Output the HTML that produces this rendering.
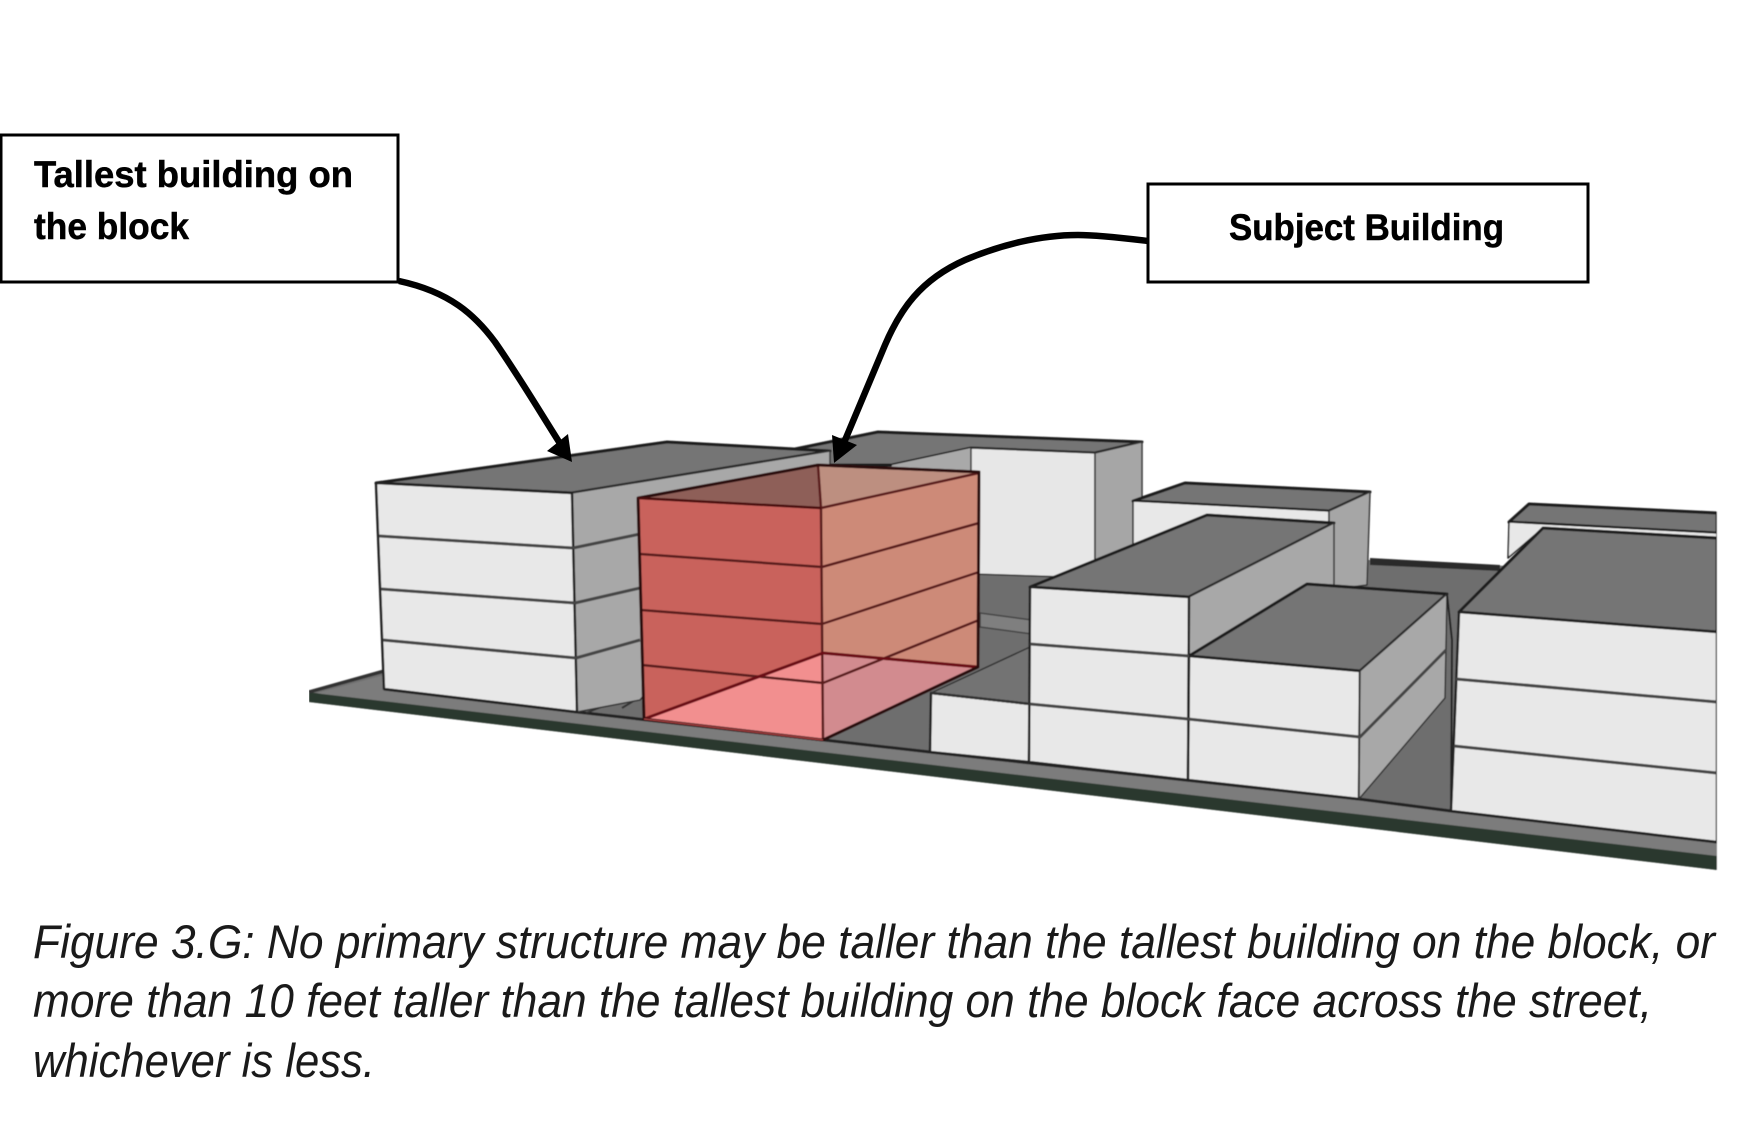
<!DOCTYPE html>
<html><head><meta charset="utf-8"><style>html,body{margin:0;padding:0;background:#fff}svg{display:block}</style></head>
<body>
<svg width="1751" height="1138" viewBox="0 0 1751 1138" xmlns="http://www.w3.org/2000/svg">
<defs><filter id="b" x="0" y="0" width="1" height="1"><feGaussianBlur stdDeviation="0.6"/></filter></defs>
<rect width="1751" height="1138" fill="#fff"/>
<g filter="url(#b)" stroke-linejoin="round">
<!-- ground -->
<polygon points="309,692 640,600 1000,545 1370,560 1717,575 1717,870 309,702" fill="#6e6e6e"/>
<polygon points="1370,558 1500,565 1500,571 1370,565" fill="#2a2a2a"/>
<polygon points="309,695 384,675 384,689 577,712 824,740 930,752 1359,799 1451,811 1717,842 1717,858 309,695" fill="#7c7c7c"/>
<polygon points="309,692 309,702 1717,870 1717,856 322,694" fill="#2b382d"/>
<polyline points="309,692 384,671" fill="none" stroke="#333" stroke-width="3.5"/>
<polyline points="384,689 577,712 824,740 930,752 1359,799 1451,811 1717,842" fill="none" stroke="#222" stroke-width="3"/>
<polygon points="980,613 1032,620 1032,634 980,627" fill="#7f7f7f" stroke="#444" stroke-width="1.5"/>
<polyline points="586,713 636,693" fill="none" stroke="#333" stroke-width="2"/>
<polyline points="622,708 640,697 M632,712 650,700" fill="none" stroke="#333" stroke-width="2"/>
<!-- back building -->
<polygon points="795,449 878,432 1142,442 1095,453 971,448 892,465 818,465" fill="#757575" stroke="#1c1c1c" stroke-width="3"/>
<polygon points="892,465 971,448 971,480 892,480" fill="#a9a9a9"/>
<polygon points="971,448 1095,453 1095,578 971,574" fill="#e7e7e7" stroke="#333" stroke-width="1.5"/>
<polygon points="1095,453 1142,442 1142,590 1095,578" fill="#a6a6a6" stroke="#333" stroke-width="1.5"/>
<!-- left building -->
<polygon points="376,483 667,442 830,451 572,493" fill="#757575" stroke="#1c1c1c" stroke-width="3"/>
<polygon points="572,493 830,451 830,470 640,700 577,712" fill="#a8a8a8" stroke="#333" stroke-width="1.5"/>
<polygon points="376,483 572,493 577,712 384,689" fill="#e8e8e8" stroke="#222" stroke-width="2.5"/>
<path d="M379,536 573,548 M381,589 575,603 M383,640 576,658 M573,548 640,534 M575,603 640,588 M576,658 640,640" stroke="#444" stroke-width="3" fill="none"/>
<!-- red building -->
<polygon points="638,498 818,465 821,508" fill="#8e5f58"/>
<polygon points="818,465 979,472 821,508" fill="#bd8f80"/>
<polygon points="638,498 821,508 823,653 644,719" fill="#c9625c"/>
<polygon points="821,508 979,472 978,667 823,653" fill="#cd8a78"/>
<polygon points="644,719 823,653 823,740" fill="#f28f8f"/>
<polygon points="823,653 978,667 823,740" fill="#d28b8f"/>
<path d="M640,554 822,567 M641,610 822,624 M642,665 823,683 M821,508 979,473 M822,567 979,523 M822,624 979,572 M823,683 979,620 M818,465 821,508 823,740" stroke="#5a1d1d" stroke-width="2.5" fill="none"/>
<path d="M644,719 823,653 978,667" stroke="#6b0f12" stroke-width="3" fill="none"/>
<polygon points="638,498 818,465 979,472 978,667 823,740 644,719" fill="none" stroke="#2a0b0b" stroke-width="3"/>
<path d="M644,719 823,740" stroke="#a04040" stroke-width="1.5" fill="none"/>
<path d="M638,498 821,508" stroke="#4a1010" stroke-width="2.5" fill="none"/>
<!-- mid back building -->
<polygon points="1133,501 1185,483 1370,492 1329,511" fill="#757575" stroke="#1c1c1c" stroke-width="3"/>
<polygon points="1133,501 1329,511 1329,540 1133,560" fill="#e8e8e8" stroke="#222" stroke-width="1.5"/>
<polygon points="1329,511 1370,492 1367,585 1329,590" fill="#a6a6a6" stroke="#333" stroke-width="1.5"/>
<!-- low building -->
<polygon points="931,693 1030,647 1030,704" fill="#737373" stroke="#333" stroke-width="1.5"/>
<polygon points="931,693 1030,704 1029,762 930,752" fill="#e8e8e8" stroke="#222" stroke-width="2.5"/>
<!-- tall building -->
<polygon points="1030,587 1207,515 1334,523 1189,597" fill="#757575" stroke="#1c1c1c" stroke-width="3"/>
<polygon points="1189,597 1334,523 1334,590 1189,660" fill="#a8a8a8" stroke="#333" stroke-width="1.5"/>
<polygon points="1030,587 1189,597 1188,780 1029,762" fill="#e8e8e8" stroke="#222" stroke-width="2.5"/>
<!-- front right building -->
<polygon points="1189,656 1307,584 1447,594 1360,671" fill="#757575" stroke="#1c1c1c" stroke-width="3"/>
<polygon points="1189,656 1360,671 1359,799 1188,780" fill="#e8e8e8" stroke="#222" stroke-width="2.5"/>
<polygon points="1360,671 1447,594 1445,698 1359,799" fill="#a8a8a8" stroke="#333" stroke-width="1.5"/>
<path d="M1030,644 1189,656 M1030,704 1188,719 1360,737 1446,650" stroke="#444" stroke-width="3" fill="none"/>
<path d="M931,693 1030,704" stroke="#333" stroke-width="2.5" fill="none"/>
<path d="M1447,594 1452,640 1451,811" stroke="#222" stroke-width="2" fill="none"/>
<!-- far right -->
<polygon points="1509,522 1529,504 1717,513 1717,533" fill="#757575" stroke="#1c1c1c" stroke-width="3"/>
<polygon points="1509,522 1717,533 1717,540 1543,528 1508,558" fill="#e8e8e8" stroke="#222" stroke-width="1.5"/>
<polygon points="1459,612 1543,528 1717,538 1717,632" fill="#757575" stroke="#1c1c1c" stroke-width="3"/>
<polygon points="1459,612 1717,632 1717,842 1451,811" fill="#e8e8e8" stroke="#222" stroke-width="2.5"/>
<path d="M1456,679 1717,702 M1454,746 1717,773" stroke="#444" stroke-width="3" fill="none"/>
<rect x="1717" y="400" width="34" height="500" fill="#fff"/>
</g>
<!-- arrows -->
<path d="M399,281 C450,292 475,315 495,342 C520,378 540,412 561,445" fill="none" stroke="#000" stroke-width="6.5"/>
<polygon points="572,462 547,451 568,434" fill="#000"/>
<path d="M1148,241 C1115,237 1095,235 1078,235 C1040,235 1000,245 965,260 C920,280 900,310 885,345 C870,380 858,410 843,445" fill="none" stroke="#000" stroke-width="6.5"/>
<polygon points="834,463 832,435 857,445" fill="#000"/>
<!-- boxes -->
<rect x="1" y="135" width="397" height="147" fill="#fff" stroke="#000" stroke-width="3"/>
<rect x="1148" y="184" width="440" height="98" fill="#fff" stroke="#000" stroke-width="3"/>
<g font-family="'Liberation Sans',sans-serif" font-weight="bold" font-size="37" fill="#000" stroke="#000" stroke-width="0.5">
<text x="34" y="187" textLength="319" lengthAdjust="spacingAndGlyphs">Tallest building on</text>
<text x="34" y="239" textLength="155" lengthAdjust="spacingAndGlyphs">the block</text>
<text x="1229" y="240" textLength="275" lengthAdjust="spacingAndGlyphs">Subject Building</text>
</g>
<g font-family="'Liberation Sans',sans-serif" font-style="italic" font-size="47" fill="#1a1a1a">
<text x="33" y="958" textLength="1682" lengthAdjust="spacingAndGlyphs">Figure 3.G: No primary structure may be taller than the tallest building on the block, or</text>
<text x="33" y="1017" textLength="1619" lengthAdjust="spacingAndGlyphs">more than 10 feet taller than the tallest building on the block face across the street,</text>
<text x="33" y="1077" textLength="342" lengthAdjust="spacingAndGlyphs">whichever is less.</text>
</g>
</svg>
</body></html>
